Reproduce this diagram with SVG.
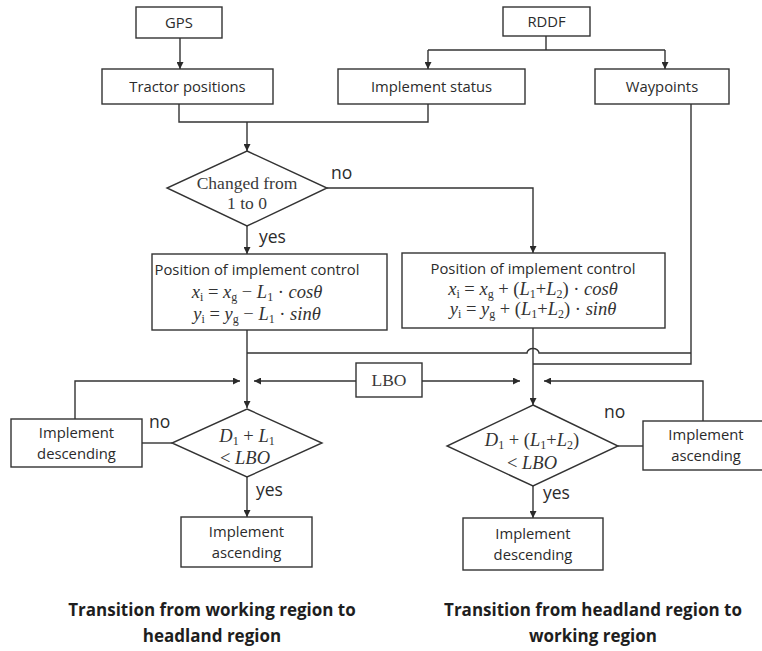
<svg xmlns="http://www.w3.org/2000/svg" width="762" height="651" viewBox="0 0 762 651">
  <defs>
    <marker id="arrow" viewBox="0 0 10 10" refX="10" refY="5" markerWidth="7" markerHeight="7" markerUnits="userSpaceOnUse" orient="auto">
      <path d="M0,0 L10,5 L0,10 z" fill="#2a2a2a"/>
    </marker>
    <style>
      .box { fill: #ffffff; stroke: #333333; stroke-width: 1.4; }
      .wire { fill: none; stroke: #333333; stroke-width: 1.4; }
      .lbl { font-family: "Open Sans", "Noto Sans", sans-serif; font-size: 14.8px; fill: #2b2b2b; text-anchor: middle; }
      .yn { font-family: "Open Sans", "Noto Sans", sans-serif; font-size: 17.5px; fill: #2b2b2b; }
      .serif { font-family: "Liberation Serif", "Times New Roman", serif; font-size: 17.5px; fill: #3a3a3a; text-anchor: middle; }
      .math { font-family: "Liberation Serif", "DejaVu Serif", serif; font-size: 18.5px; fill: #333333; text-anchor: middle; }
      .it { font-style: italic; }
      .sub { font-size: 12px; font-style: normal; }
      .cap { font-family: "Open Sans", "Noto Sans", sans-serif; font-size: 17px; font-weight: bold; fill: #1e1e1e; text-anchor: middle; }
    </style>
  </defs>
  <rect width="762" height="651" fill="#ffffff"/>

  <!-- connectors -->
  <g id="connectors">
    <path class="wire" d="M180 38 V69" marker-end="url(#arrow)"/>
    <path class="wire" d="M546 36 V50"/>
    <path class="wire" d="M428 50 H665"/>
    <path class="wire" d="M428 50 V69" marker-end="url(#arrow)"/>
    <path class="wire" d="M665 50 V69" marker-end="url(#arrow)"/>
    <path class="wire" d="M179 104 V122 H428 V104"/>
    <path class="wire" d="M247 122 V151" marker-end="url(#arrow)"/>
    <path class="wire" d="M327 188 H533 V253" marker-end="url(#arrow)"/>
    <path class="wire" d="M247 226 V254" marker-end="url(#arrow)"/>
    <!-- waypoints feed, hopping over the right-hand branch -->
    <path class="wire" d="M691 104 V364 H533"/>
    <path class="wire" d="M247 353 H527 A6 4.5 0 0 1 539 353 H691"/>
    <path class="wire" d="M247 330 V408" marker-end="url(#arrow)"/>
    <path class="wire" d="M533 328 V405" marker-end="url(#arrow)"/>
    <!-- LBO distribution -->
    <path class="wire" d="M356 381 H254" marker-end="url(#arrow)"/>
    <path class="wire" d="M422 381 H520" marker-end="url(#arrow)"/>
    <!-- loops back from the "no" branches -->
    <path class="wire" d="M75 419 V381 H240" marker-end="url(#arrow)"/>
    <path class="wire" d="M142 443 H172"/>
    <path class="wire" d="M703 421 V381 H544" marker-end="url(#arrow)"/>
    <path class="wire" d="M618 446 H643"/>
    <path class="wire" d="M247 477 V517" marker-end="url(#arrow)"/>
    <path class="wire" d="M533 486 V518" marker-end="url(#arrow)"/>
  </g>

  <!-- decision labels -->
  <text class="yn" x="331" y="179">no</text>
  <text class="yn" x="259" y="243">yes</text>
  <text class="yn" x="149" y="428">no</text>
  <text class="yn" x="256" y="496">yes</text>
  <text class="yn" x="604" y="418">no</text>
  <text class="yn" x="543" y="499">yes</text>

  <g id="gps">
    <rect class="box" x="136" y="7" width="86" height="31"/>
    <text class="lbl" x="179" y="28">GPS</text>
  </g>
  <g id="rddf">
    <rect class="box" x="503" y="7" width="87" height="29"/>
    <text class="lbl" x="546.5" y="27">RDDF</text>
  </g>
  <g id="tractor-positions">
    <rect class="box" x="102" y="69" width="171" height="35"/>
    <text class="lbl" x="187.5" y="92">Tractor positions</text>
  </g>
  <g id="implement-status">
    <rect class="box" x="338" y="69" width="187" height="35"/>
    <text class="lbl" x="431.5" y="92">Implement status</text>
  </g>
  <g id="waypoints">
    <rect class="box" x="595" y="69" width="134" height="35"/>
    <text class="lbl" x="662" y="92">Waypoints</text>
  </g>

  <g id="changed-decision">
    <polygon class="box" points="247,151 327,188 247,226 167,188"/>
    <text class="serif" x="247" y="189">Changed from</text>
    <text class="serif" x="247" y="209">1 to 0</text>
  </g>

  <g id="position-left">
    <rect class="box" x="152" y="254" width="235" height="76"/>
    <text class="lbl" x="257" y="275">Position of implement control</text>
    <text class="math" x="257" y="298"><tspan class="it">x</tspan><tspan class="sub it" dy="3">i</tspan><tspan dy="-3"> = </tspan><tspan class="it">x</tspan><tspan class="sub it" dy="3">g</tspan><tspan dy="-3"> − </tspan><tspan class="it">L</tspan><tspan class="sub" dy="3">1</tspan><tspan dy="-3"> · </tspan><tspan class="it">cosθ</tspan></text>
    <text class="math" x="257" y="320"><tspan class="it">y</tspan><tspan class="sub it" dy="3">i</tspan><tspan dy="-3"> = </tspan><tspan class="it">y</tspan><tspan class="sub it" dy="3">g</tspan><tspan dy="-3"> − </tspan><tspan class="it">L</tspan><tspan class="sub" dy="3">1</tspan><tspan dy="-3"> · </tspan><tspan class="it">sinθ</tspan></text>
  </g>

  <g id="position-right">
    <rect class="box" x="402" y="253" width="263" height="75"/>
    <text class="lbl" x="533" y="274">Position of implement control</text>
    <text class="math" x="533" y="295"><tspan class="it">x</tspan><tspan class="sub it" dy="3">i</tspan><tspan dy="-3"> = </tspan><tspan class="it">x</tspan><tspan class="sub it" dy="3">g</tspan><tspan dy="-3"> + (</tspan><tspan class="it">L</tspan><tspan class="sub" dy="3">1</tspan><tspan dy="-3">+</tspan><tspan class="it">L</tspan><tspan class="sub" dy="3">2</tspan><tspan dy="-3">) · </tspan><tspan class="it">cosθ</tspan></text>
    <text class="math" x="533" y="315"><tspan class="it">y</tspan><tspan class="sub it" dy="3">i</tspan><tspan dy="-3"> = </tspan><tspan class="it">y</tspan><tspan class="sub it" dy="3">g</tspan><tspan dy="-3"> + (</tspan><tspan class="it">L</tspan><tspan class="sub" dy="3">1</tspan><tspan dy="-3">+</tspan><tspan class="it">L</tspan><tspan class="sub" dy="3">2</tspan><tspan dy="-3">) · </tspan><tspan class="it">sinθ</tspan></text>
  </g>

  <g id="lbo">
    <rect class="box" x="356" y="363" width="66" height="34"/>
    <text class="serif" x="389" y="386">LBO</text>
  </g>

  <g id="descending-left">
    <rect class="box" x="11" y="419" width="131" height="48"/>
    <text class="lbl" x="76.5" y="438">Implement</text>
    <text class="lbl" x="76.5" y="459">descending</text>
  </g>

  <g id="check-left">
    <polygon class="box" points="247,409 322,443 247,477 172,443"/>
    <text class="math" x="247" y="442"><tspan class="it">D</tspan><tspan class="sub" dy="3">1</tspan><tspan dy="-3"> + </tspan><tspan class="it">L</tspan><tspan class="sub" dy="3">1</tspan></text>
    <text class="math" x="245" y="464"><tspan>&lt; </tspan><tspan class="it">LBO</tspan></text>
  </g>

  <g id="ascending-bottom">
    <rect class="box" x="181" y="517" width="131" height="50"/>
    <text class="lbl" x="246.5" y="537">Implement</text>
    <text class="lbl" x="246.5" y="558">ascending</text>
  </g>

  <g id="check-right">
    <polygon class="box" points="533,405 618,446 533,486 447,446"/>
    <text class="math" x="532" y="446"><tspan class="it">D</tspan><tspan class="sub" dy="3">1</tspan><tspan dy="-3"> + (</tspan><tspan class="it">L</tspan><tspan class="sub" dy="3">1</tspan><tspan dy="-3">+</tspan><tspan class="it">L</tspan><tspan class="sub" dy="3">2</tspan><tspan dy="-3">)</tspan></text>
    <text class="math" x="532" y="469"><tspan>&lt; </tspan><tspan class="it">LBO</tspan></text>
  </g>

  <g id="ascending-right">
    <rect class="box" x="643" y="421" width="124" height="49"/>
    <text class="lbl" x="706" y="440">Implement</text>
    <text class="lbl" x="706" y="461">ascending</text>
  </g>

  <g id="descending-bottom">
    <rect class="box" x="463" y="518" width="140" height="52"/>
    <text class="lbl" x="533" y="539">Implement</text>
    <text class="lbl" x="533" y="560">descending</text>
  </g>

  <g id="captions">
    <text class="cap" x="212" y="616">Transition from working region to</text>
    <text class="cap" x="212" y="642">headland region</text>
    <text class="cap" x="593" y="616">Transition from headland region to</text>
    <text class="cap" x="593" y="642">working region</text>
  </g>
</svg>
